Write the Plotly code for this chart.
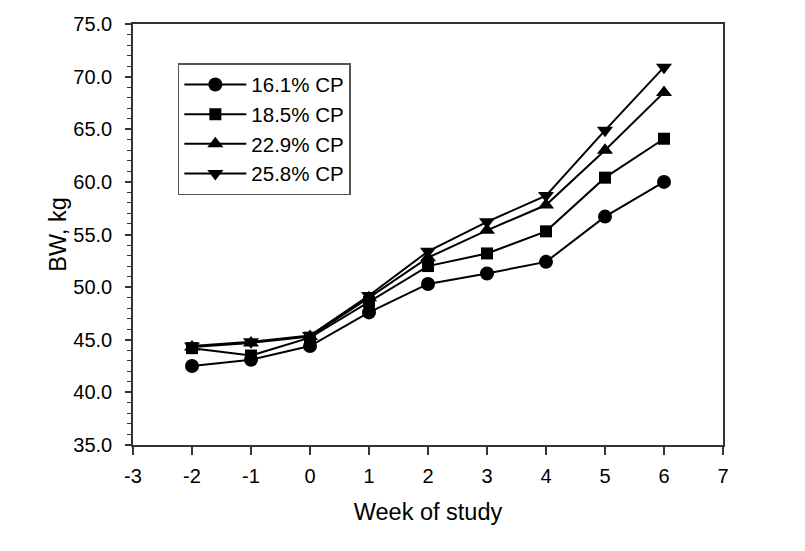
import plotly.graph_objects as go

weeks = [-2, -1, 0, 1, 2, 3, 4, 5, 6]
cp161 = [42.5, 43.1, 44.4, 47.6, 50.3, 51.3, 52.4, 56.7, 60.0]
cp185 = [44.2, 43.5, 45.2, 48.6, 52.0, 53.2, 55.3, 60.4, 64.1]
cp229 = [44.3, 44.7, 45.3, 49.0, 52.8, 55.4, 57.8, 63.0, 68.5]
cp258 = [44.4, 44.8, 45.4, 49.2, 53.4, 56.2, 58.7, 64.9, 70.9]
names = ["16.1% CP", "18.5% CP", "22.9% CP", "25.8% CP"]
symbols = ["circle", "square", "triangle-up", "triangle-down"]
series = [cp161, cp185, cp229, cp258]
x_ticks = [-3, -2, -1, 0, 1, 2, 3, 4, 5, 6, 7]
x_tick_labels = ["-3", "-2", "-1", "0", "1", "2", "3", "4", "5", "6", "7"]
y_ticks = [35, 40, 45, 50, 55, 60, 65, 70, 75]
y_tick_labels = ["35.0", "40.0", "45.0", "50.0", "55.0", "60.0", "65.0", "70.0", "75.0"]

fig = go.Figure()
for name, sym, vals in zip(names, symbols, series):
    fig.add_trace(go.Scatter(
        x=weeks, y=vals, name=name, mode="lines+markers",
        line=dict(color="black", width=2),
        marker=dict(symbol=sym, size=14 if sym != "square" else 12, color="black"),
    ))

font = "Liberation Sans, Arial, sans-serif"
# page body has an 8px default margin, so the figure is sized 797x543
fig.update_layout(
    width=797, height=543,
    margin=dict(l=125, r=82, t=16, b=106),
    paper_bgcolor="white", plot_bgcolor="white",
    font=dict(family=font, size=20, color="black"),
    showlegend=True,
    legend=dict(
        x=0.076, y=0.907, xanchor="left", yanchor="top",
        bordercolor="#555555", borderwidth=1.5, bgcolor="white",
        font=dict(family=font, size=20.5, color="black"),
        tracegroupgap=0, itemwidth=62,
    ),
    xaxis=dict(
        range=[-3, 7], tickmode="array", tickvals=x_ticks, ticktext=x_tick_labels,
        ticks="outside", ticklen=8, tickwidth=1.5, tickcolor="#333333",
        showline=True, linecolor="#333333", linewidth=1.5, mirror=True,
        showgrid=False, zeroline=False, automargin=False,
        ticklabelstandoff=4,
        title=dict(text="Week of study", font=dict(size=23.5), standoff=18),
        tickfont=dict(size=20),
    ),
    yaxis=dict(
        range=[35, 75], tickmode="array", tickvals=y_ticks, ticktext=y_tick_labels,
        ticks="outside", ticklen=6, tickwidth=1.5, tickcolor="#333333",
        showline=True, linecolor="#333333", linewidth=1.5, mirror=True,
        showgrid=False, zeroline=False, automargin=False,
        ticklabelstandoff=9,
        minor=dict(dtick=1, ticks="outside", ticklen=4, tickwidth=1, tickcolor="#333333", showgrid=False),
        title=dict(text="BW, kg", font=dict(size=23.5), standoff=0),
        tickfont=dict(size=20),
    ),
)

fig.write_html("out.html")
